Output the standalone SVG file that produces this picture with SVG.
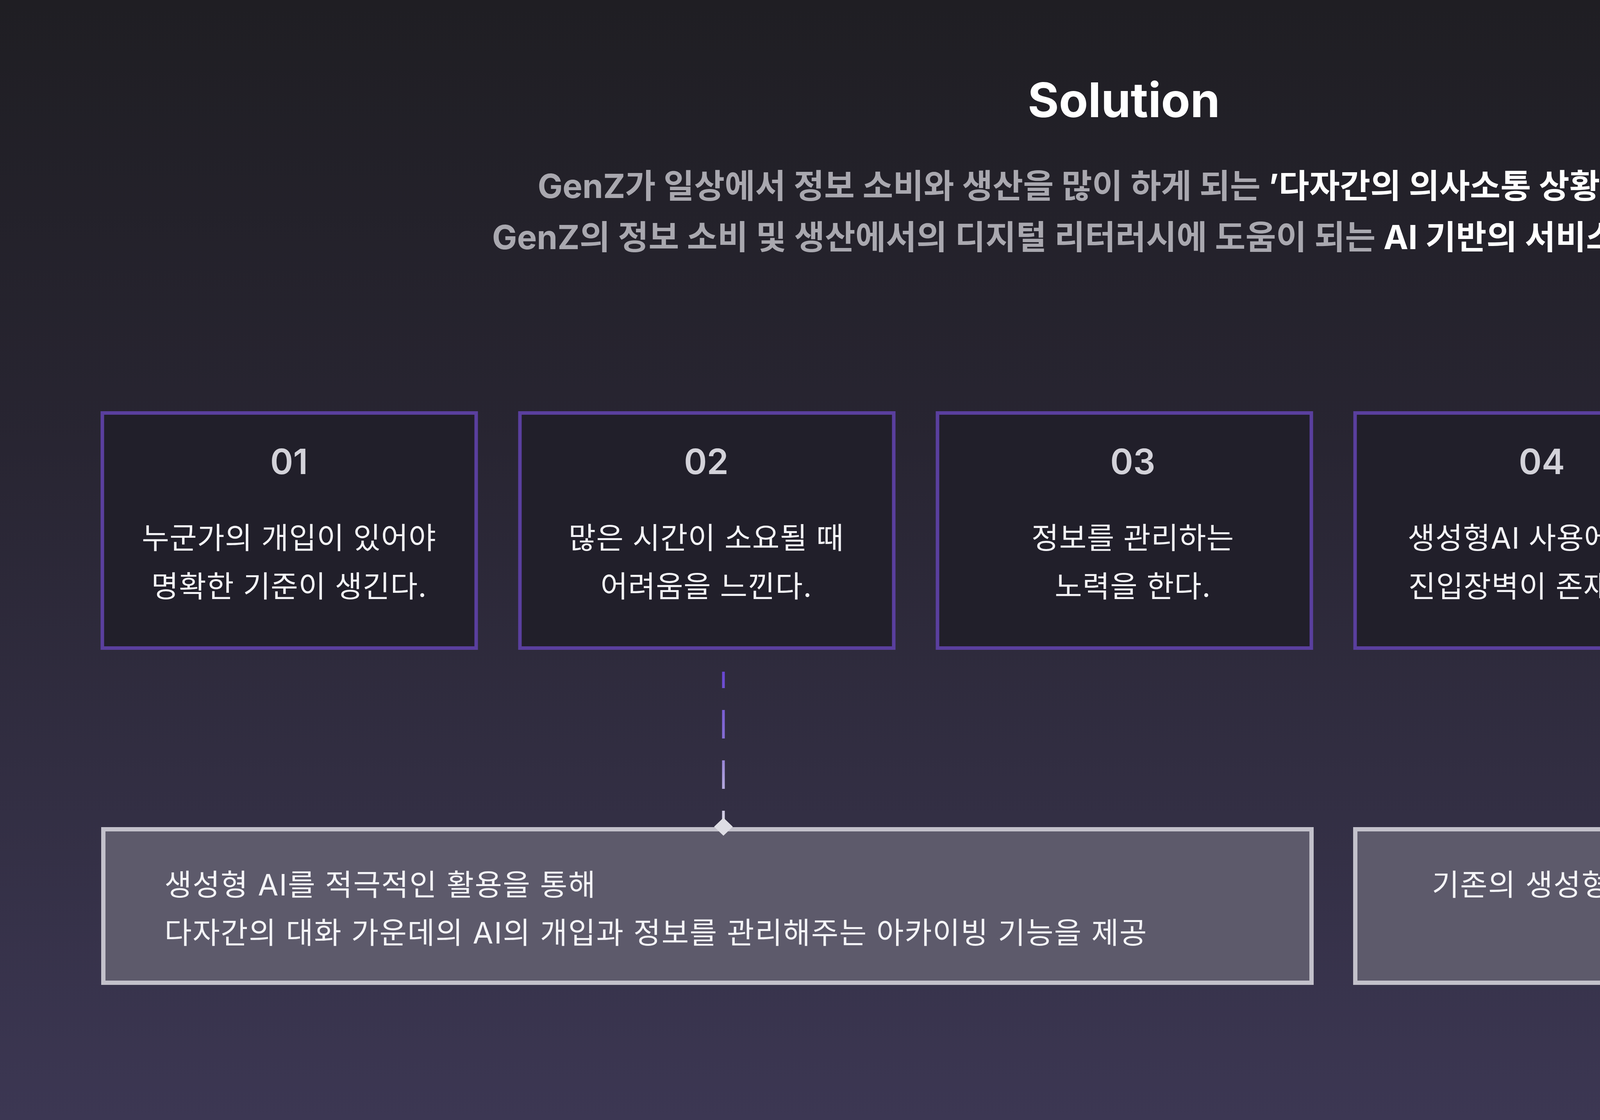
<svg xmlns="http://www.w3.org/2000/svg" width="5760" height="2868" viewBox="0 0 5760 2868">
  <defs>
    <linearGradient id="bg" x1="0" y1="0" x2="0" y2="1">
      <stop offset="0" stop-color="#1f1e23"/>
      <stop offset="0.4" stop-color="#282532"/>
      <stop offset="1" stop-color="#3c3753"/>
    </linearGradient>
    <linearGradient id="dash" gradientUnits="userSpaceOnUse" x1="0" y1="1720" x2="0" y2="2110">
      <stop offset="0" stop-color="#6846d2"/>
      <stop offset="0.5" stop-color="#8a74d4"/>
      <stop offset="1" stop-color="#dcdae6"/>
    </linearGradient>
    <path id="diamond" d="M0,-23 L24,0 L0,23 L-24,0 Z"/>
    <style>
      .title{font-family:Inter,"Noto Sans CJK KR",sans-serif;font-weight:700;font-size:122px;fill:#ffffff}
      .sub{font-family:Inter,"Noto Sans CJK KR",sans-serif;font-weight:700;font-size:85px;fill:#a9a8af;letter-spacing:0px}
      .em{fill:#ffffff}
      .card{fill:#211f2a;stroke:#5a3f9e;stroke-width:9}
      .num{font-family:Inter,"Noto Sans CJK KR",sans-serif;font-weight:600;font-size:89px;fill:#d3d2d9;text-anchor:middle}
      .body{font-family:Inter,"Noto Sans CJK KR",sans-serif;font-weight:400;font-size:76px;fill:#f4f4f7;letter-spacing:1px}
      .wide{letter-spacing:2px}
      .mid{text-anchor:middle}
      .panel{fill:#5d5a6b;stroke:#c3c1cb;stroke-width:11}
      .conn{stroke:url(#dash);stroke-width:7;stroke-dasharray:73 56;stroke-dashoffset:31;fill:none}
      .tip{fill:#dedde4}
    </style>
  </defs>

  <rect x="0" y="0" width="5760" height="2868" fill="url(#bg)"/>

  <g id="header">
    <text class="title" x="2877" y="300" text-anchor="middle">Solution</text>
    <text class="sub" x="2955" y="507" text-anchor="middle">GenZ가 일상에서 정보 소비와 생산을 많이 하게 되는 <tspan class="em">’다자간의 의사소통 상황’에 집중</tspan>하여</text>
    <text class="sub" x="2958" y="638" text-anchor="middle">GenZ의 정보 소비 및 생산에서의 디지털 리터러시에 도움이 되는 <tspan class="em">AI 기반의 서비스를 제안</tspan>합니다.</text>
  </g>

  <g id="card-01">
    <rect class="card" x="262" y="1057.5" width="957" height="602"/>
    <text class="num" x="740" y="1214">01</text>
    <text class="body mid" x="740" y="1405">누군가의 개입이 있어야</text>
    <text class="body mid" x="740" y="1529">명확한 기준이 생긴다.</text>
  </g>
  <g id="card-02">
    <rect class="card" x="1331" y="1057.5" width="957" height="602"/>
    <text class="num" x="1808" y="1214">02</text>
    <text class="body mid" x="1808" y="1405">많은 시간이 소요될 때</text>
    <text class="body mid" x="1808" y="1529">어려움을 느낀다.</text>
  </g>
  <g id="card-03">
    <rect class="card" x="2400" y="1057.5" width="957" height="602"/>
    <text class="num" x="2900" y="1214">03</text>
    <text class="body mid" x="2900" y="1405">정보를 관리하는</text>
    <text class="body mid" x="2900" y="1529">노력을 한다.</text>
  </g>
  <g id="card-04">
    <rect class="card" x="3469" y="1057.5" width="957" height="602"/>
    <text class="num" x="3947" y="1214">04</text>
    <text class="body mid" x="3947" y="1405">생성형AI 사용에 대한</text>
    <text class="body mid" x="3947" y="1529">진입장벽이 존재한다.</text>
  </g>
  <g id="card-05">
    <rect class="card" x="4538" y="1057.5" width="957" height="602"/>
    <text class="num" x="5016" y="1214">05</text>
    <text class="body mid" x="5016" y="1405">방법을 잘 모르는 경우</text>
    <text class="body mid" x="5016" y="1529">사용을 기피한다.</text>
  </g>

  <g id="solution-a">
    <rect class="panel" x="264.5" y="2123.5" width="3093" height="393"/>
    <text class="body wide" x="421" y="2293">생성형 AI를 적극적인 활용을 통해</text>
    <text class="body wide" x="421" y="2416">다자간의 대화 가운데의 AI의 개입과 정보를 관리해주는 아카이빙 기능을 제공</text>
  </g>
  <g id="solution-b">
    <rect class="panel" x="3469.5" y="2123.5" width="2024" height="393"/>
    <text class="body wide mid" x="4496" y="2293">기존의 생성형 AI와 다른 새로운 생성형AI의 모델을</text>
    <text class="body wide mid" x="4496" y="2416">서비스에 결합</text>
  </g>

  <g id="connectors">
    <line class="conn" x1="1852" y1="1720" x2="1852" y2="2110"/>
    <use href="#diamond" class="tip" x="1852" y="2117"/>
    <line class="conn" x1="4493" y1="1720" x2="4493" y2="2110"/>
    <use href="#diamond" class="tip" x="4493" y="2117"/>
  </g>
</svg>
